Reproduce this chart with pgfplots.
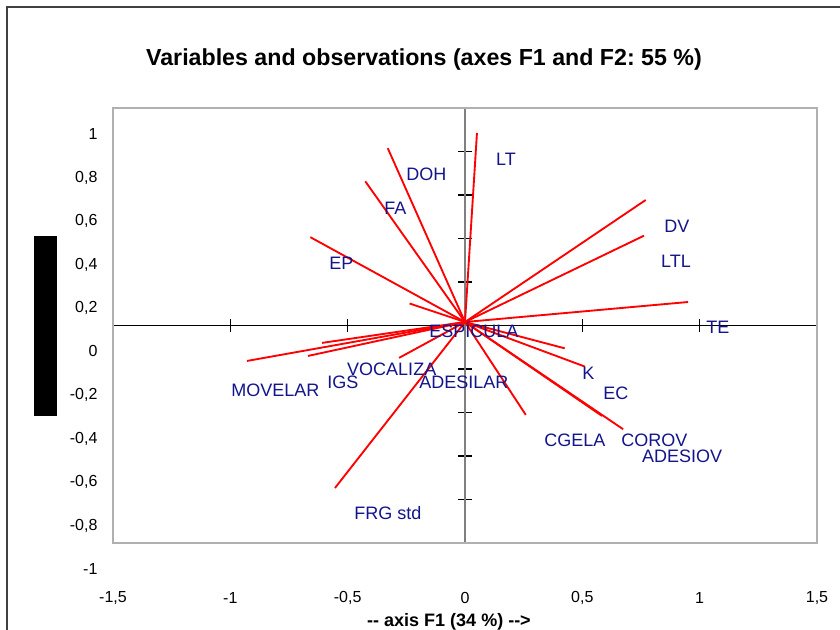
\documentclass[border=0pt]{standalone}
\usepackage{pgfplots}
\pgfplotsset{compat=1.18}
\usepackage{fontspec}
\setmainfont{Liberation Sans}
\frenchspacing
\definecolor{lblblue}{RGB}{20,20,140}
\definecolor{boxgray}{RGB}{176,176,176}
\begin{document}
\begin{tikzpicture}[x=1pt,y=1pt,
  lbl/.style={anchor=west, inner sep=0pt, text=lblblue, font=\fontsize{13.5}{15}\selectfont}]
\path[use as bounding box, clip] (0,0) rectangle (630,472.5);
\fill[white] (0,0) rectangle (630,472.5);
\draw[line width=1.5pt, black!75] (5.25,-5) -- (5.25,467.25) -- (640,467.25);
\fill[black] (25.5,160.5) rectangle (42.75,295.5);
\node[font=\bfseries\fontsize{17.4}{19}\selectfont] at (318,427.5) {Variables and observations (axes F1 and F2: 55 \%)};
\node[font=\bfseries\fontsize{13.5}{15}\selectfont] at (336.75,6) {-{}- axis F1 (34 \%) -{}->};
% middle axes with cross ticks
\begin{axis}[at={(84.75pt,65.25pt)}, anchor=south west, scale only axis,
  width=528pt, height=326.25pt,
  xmin=-1.5, xmax=1.5, ymin=-1, ymax=1,
  axis lines=middle, axis line style={-},
  x axis line style={black, line width=1pt},
  y axis line style={black!50, line width=1.3pt},
  xtick={-1.5,-1,-0.5,0,0.5,1,1.5},
  ytick={-1,-0.8,-0.6,-0.4,-0.2,0,0.2,0.4,0.6,0.8,1},
  xticklabels={}, yticklabels={},
  tick label style={opacity=0},
  tick align=center, major tick length=10pt,
  tick style={black, line width=0.9pt},
  clip=false]
\end{axis}
% box axis with labels and vectors
\begin{axis}[at={(84.75pt,65.25pt)}, anchor=south west, scale only axis,
  width=528pt, height=326.25pt,
  xmin=-1.5, xmax=1.5, ymin=-1, ymax=1,
  axis line style={boxgray, line width=0.8pt},
  xtick={-1.5,-1,-0.5,0,0.5,1,1.5},
  xticklabels={{-1,5},{-1},{-0,5},{0},{0,5},{1},{1,5}},
  ytick={-1,-0.8,-0.6,-0.4,-0.2,0,0.2,0.4,0.6,0.8,1},
  yticklabels={{-1},{-0,8},{-0,6},{-0,4},{-0,2},{0},{0,2},{0,4},{0,6},{0,8},{1}},
  major tick length=0pt,
  tick label style={font=\fontsize{12}{14}\selectfont, text=black},
  xticklabel style={anchor=center, inner sep=0pt, yshift=-41.25pt},
  yticklabel style={anchor=east, inner sep=0pt, xshift=-11.5pt, yshift=-19.5pt},
  clip=false]
\addplot[red, line width=1.4pt, no marks] coordinates {(0,0.016) (0.051,0.885)};
\addplot[red, line width=1.4pt, no marks] coordinates {(0,0.016) (-0.329,0.815)};
\addplot[red, line width=1.4pt, no marks] coordinates {(0,0.016) (-0.425,0.663)};
\addplot[red, line width=1.4pt, no marks] coordinates {(0,0.016) (-0.659,0.406)};
\addplot[red, line width=1.4pt, no marks] coordinates {(0,0.016) (-0.236,0.101)};
\addplot[red, line width=1.4pt, no marks] coordinates {(0,0.016) (0.770,0.577)};
\addplot[red, line width=1.4pt, no marks] coordinates {(0,0.016) (0.763,0.413)};
\addplot[red, line width=1.4pt, no marks] coordinates {(0,0.016) (0.951,0.108)};
\addplot[red, line width=1.4pt, no marks] coordinates {(0,0.016) (0.425,-0.105)};
\addplot[red, line width=1.4pt, no marks] coordinates {(0,0.016) (0.511,-0.189)};
\addplot[red, line width=1.4pt, no marks] coordinates {(0,0.016) (0.584,-0.416)};
\addplot[red, line width=1.4pt, no marks] coordinates {(0,0.016) (0.674,-0.477)};
\addplot[red, line width=1.4pt, no marks] coordinates {(0,0.016) (0.259,-0.411)};
\addplot[red, line width=1.4pt, no marks] coordinates {(0,0.016) (-0.281,-0.149)};
\addplot[red, line width=1.4pt, no marks] coordinates {(0,0.016) (-0.609,-0.080)};
\addplot[red, line width=1.4pt, no marks] coordinates {(0,0.016) (-0.669,-0.140)};
\addplot[red, line width=1.4pt, no marks] coordinates {(0,0.016) (-0.929,-0.163)};
\addplot[red, line width=1.4pt, no marks] coordinates {(0,0.016) (-0.554,-0.747)};
\node[lbl] at (axis cs:0.132,0.766) {LT};
\node[lbl] at (axis cs:-0.251,0.697) {DOH};
\node[lbl] at (axis cs:-0.345,0.540) {FA};
\node[lbl] at (axis cs:-0.579,0.287) {EP};
\node[lbl] at (axis cs:0.848,0.457) {DV};
\node[lbl] at (axis cs:0.835,0.297) {LTL};
\node[lbl] at (axis cs:1.027,-0.007) {TE};
\node[lbl] at (axis cs:-0.153,-0.021) {ESPÍCULA};
\node[lbl] at (axis cs:-0.503,-0.200) {VOCALIZA};
\node[lbl] at (axis cs:-0.997,-0.297) {MOVELAR};
\node[lbl] at (axis cs:-0.588,-0.260) {IGS};
\node[lbl] at (axis cs:-0.196,-0.260) {ADESILAR};
\node[lbl] at (axis cs:0.499,-0.218) {K};
\node[lbl] at (axis cs:0.588,-0.310) {EC};
\node[lbl] at (axis cs:0.337,-0.526) {CGELA};
\node[lbl] at (axis cs:0.665,-0.526) {COROV};
\node[lbl] at (axis cs:0.754,-0.600) {ADESIOV};
\node[lbl] at (axis cs:-0.473,-0.862) {FRG std};
\end{axis}
\end{tikzpicture}
\end{document}
